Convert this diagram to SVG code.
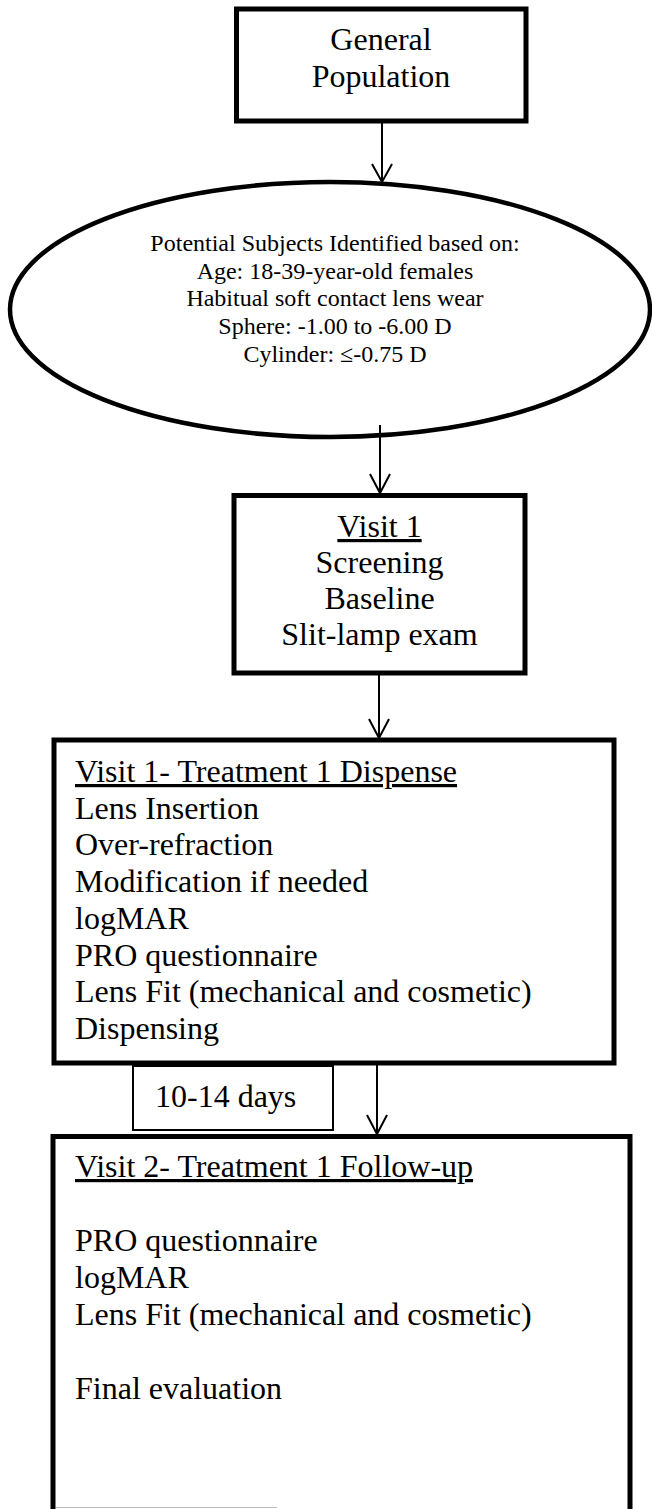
<svg xmlns="http://www.w3.org/2000/svg" width="652" height="1509" viewBox="0 0 652 1509">
  <style>
    .box { fill: #fff; stroke: #000; stroke-width: 5; }
    .thin { fill: #fff; stroke: #000; stroke-width: 2; }
    .conn { fill: none; stroke: #000; stroke-width: 2; }
    .t { font-family: "Liberation Serif", "Times New Roman", serif; font-size: 32px; fill: #000; }
    .s { font-family: "Liberation Serif", "Times New Roman", serif; font-size: 24px; fill: #000; }
    .c { text-anchor: middle; }
    .u { text-decoration: underline; }
  </style>
  <rect x="0" y="0" width="652" height="1509" fill="#fff"/>

  <g id="node-general-population">
    <rect class="box" x="236.5" y="9" width="289.5" height="112"/>
    <text class="t c" x="381" y="50">General</text>
    <text class="t c" x="381" y="87">Population</text>
  </g>

  <g id="node-potential-subjects">
    <ellipse cx="330" cy="309.5" rx="320" ry="127.5" fill="#fff" stroke="#000" stroke-width="4.5"/>
    <text class="s c" x="335" y="251">Potential Subjects Identified based on:</text>
    <text class="s c" x="335" y="278.5">Age: 18-39-year-old females</text>
    <text class="s c" x="335" y="306">Habitual soft contact lens wear</text>
    <text class="s c" x="335" y="334">Sphere: -1.00 to -6.00 D</text>
    <text class="s c" x="335" y="362">Cylinder: ≤-0.75 D</text>
  </g>

  <g id="node-visit1-screening">
    <rect class="box" x="234" y="495.5" width="291" height="177.5"/>
    <text class="t c u" x="379.5" y="537">Visit 1</text>
    <text class="t c" x="379.5" y="573">Screening</text>
    <text class="t c" x="379.5" y="609">Baseline</text>
    <text class="t c" x="379.5" y="645">Slit-lamp exam</text>
  </g>

  <g id="node-visit1-dispense">
    <rect class="box" x="54" y="740" width="560" height="323"/>
    <text class="t u" x="75" y="782">Visit 1- Treatment 1 Dispense</text>
    <text class="t" x="75" y="818.7">Lens Insertion</text>
    <text class="t" x="75" y="855.4">Over-refraction</text>
    <text class="t" x="75" y="892.1">Modification if needed</text>
    <text class="t" x="75" y="928.8">logMAR</text>
    <text class="t" x="75" y="965.5">PRO questionnaire</text>
    <text class="t" x="75" y="1002.2">Lens Fit (mechanical and cosmetic)</text>
    <text class="t" x="75" y="1038.9">Dispensing</text>
  </g>

  <g id="node-interval">
    <rect class="thin" x="133" y="1066" width="200" height="64"/>
    <text class="t" x="155" y="1107">10-14 days</text>
  </g>

  <g id="node-visit2-followup">
    <rect class="box" x="53" y="1136.5" width="577" height="410"/>
    <text class="t u" x="75" y="1177">Visit 2- Treatment 1 Follow-up</text>
    <text class="t" x="75" y="1251">PRO questionnaire</text>
    <text class="t" x="75" y="1288">logMAR</text>
    <text class="t" x="75" y="1325">Lens Fit (mechanical and cosmetic)</text>
    <text class="t" x="75" y="1399">Final evaluation</text>
    <line x1="56" y1="1507.5" x2="277" y2="1507.5" stroke="#bbb" stroke-width="1"/>
  </g>

  <g id="connectors">
    <line class="conn" x1="382" y1="121" x2="382" y2="182"/>
    <polyline class="conn" points="372,164 382,182 392,164"/>
    <line class="conn" x1="380" y1="425" x2="380" y2="493"/>
    <polyline class="conn" points="370,474 380,493 390,474"/>
    <line class="conn" x1="379" y1="673" x2="379" y2="738"/>
    <polyline class="conn" points="369,719 379,738 389,719"/>
    <line class="conn" x1="377" y1="1063" x2="377" y2="1134"/>
    <polyline class="conn" points="367,1115 377,1134 387,1115"/>
  </g>
</svg>
